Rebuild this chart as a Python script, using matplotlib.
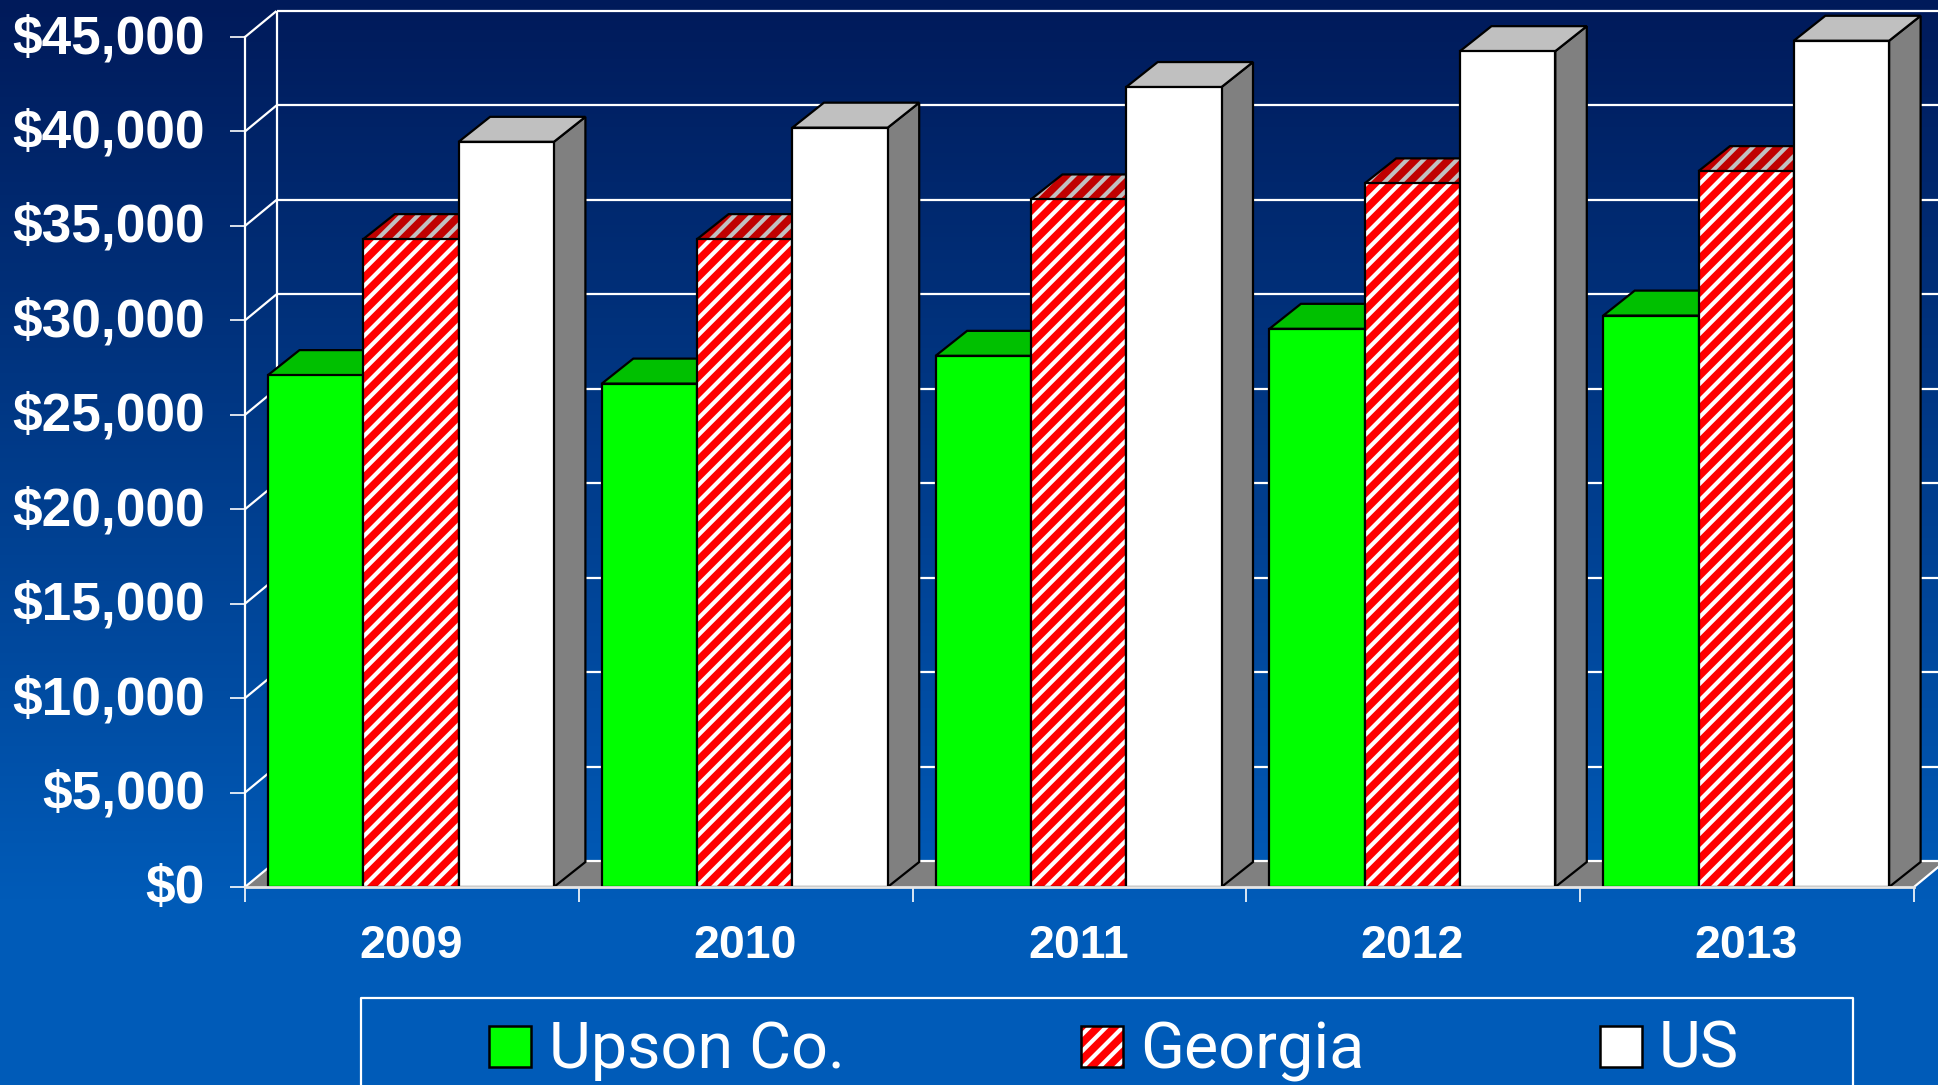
#!/usr/bin/env python3
import numpy as np
import matplotlib
matplotlib.use("Agg")
import matplotlib.pyplot as plt
from matplotlib.colors import LinearSegmentedColormap
from matplotlib.patches import Rectangle
from matplotlib.transforms import ScaledTranslation

years = ["2009", "2010", "2011", "2012", "2013"]
upson = [27100, 26650, 28120, 29550, 30250]
georgia = [34300, 34300, 36400, 37250, 37900]
us = [39450, 40200, 42350, 44250, 44800]
y_ticks = [0, 5000, 10000, 15000, 20000, 25000, 30000, 35000, 40000, 45000]

W, H = 1938, 1085
X0, X1, Y0, Y1 = 245, 1914, 887, 37     # plot box in pixels
px_x = 5 / (X1 - X0)
px_y = 45000 / (Y0 - Y1)
DX = 31.5 * px_x                        # 3d depth, in data units
DY = 26 * px_y
BAR_DY = 25 * px_y
BAR_W = 95.3 * px_x
MARGIN = 23 * px_x

plt.rcParams.update({
    "font.family": ["Liberation Sans", "DejaVu Sans"],
    "hatch.linewidth": 3.0,
    "text.color": "white",
})

fig = plt.figure(figsize=(W / 100, H / 100), dpi=100)

# background gradient
bg = fig.add_axes([0, 0, 1, 1], zorder=0)
cmap = LinearSegmentedColormap.from_list("bg", [(0, "#001A5A"), (0.83, "#005BB8"), (1, "#005CB9")])
bg.imshow(np.linspace(0, 1, 256).reshape(-1, 1), aspect="auto", cmap=cmap, extent=[0, W, H, 0])
bg.set_xlim(0, W)
bg.set_ylim(H, 0)
bg.axis("off")

ax = fig.add_axes([X0 / W, (H - Y0) / H, (X1 - X0) / W, (Y0 - Y1) / H], zorder=1)
ax.patch.set_alpha(0)
ax.set_xlim(0, 5)
ax.set_ylim(0, 45000)

# floor
ax.fill([0, DX, 5 + DX, 5], [0, DY, DY, 0], color="#808080", lw=0, zorder=1, clip_on=False)

# back wall grid, left wall diagonals
line = dict(color="white", lw=1.6, zorder=1.5, clip_on=False, solid_capstyle="butt")
for v in y_ticks:
    ax.plot([DX, 5 + DX], [v + DY, v + DY], **line)
    ax.plot([0, DX], [v, v + DY], **line)
ax.plot([DX, DX], [DY, 45000 + DY], **line)
ax.plot([5, 5 + DX], [0, DY], **line)


def draw_series(values, slot, front, top, side, hatch, z):
    lefts = [i + MARGIN + slot * BAR_W for i in range(len(values))]
    for x, v in zip(lefts, values):
        # side and top faces
        ax.fill([x + BAR_W, x + BAR_W + DX, x + BAR_W + DX, x + BAR_W], [0, BAR_DY, v + BAR_DY, v],
                facecolor=side, edgecolor="black", lw=1.6, zorder=z, clip_on=False)
        ax.fill([x, x + DX, x + BAR_W + DX, x + BAR_W], [v, v + BAR_DY, v + BAR_DY, v],
                facecolor=top[0], edgecolor=top[1], hatch=hatch, lw=0, zorder=z, clip_on=False)
        ax.fill([x, x + DX, x + BAR_W + DX, x + BAR_W], [v, v + BAR_DY, v + BAR_DY, v],
                fill=False, edgecolor="black", lw=1.6, zorder=z, clip_on=False)
    ax.bar(lefts, values, BAR_W, align="edge", color=front[0], edgecolor=front[1],
           hatch=hatch, lw=0, zorder=z + 0.5, clip_on=False)
    ax.bar(lefts, values, BAR_W, align="edge", fill=False, edgecolor="black", lw=1.6,
           zorder=z + 0.6, clip_on=False)


draw_series(upson, 0, ("#00FF00", "#00FF00"), ("#00C000", "#00C000"), "#00C000", None, 3)
draw_series(georgia, 1, ("#FF0000", "white"), ("#C00000", "#C0C0C0"), "#C00000", "//", 5)
draw_series(us, 2, ("white", "white"), ("#C0C0C0", "#C0C0C0"), "#808080", None, 7)

# axes
for s in ["top", "right"]:
    ax.spines[s].set_visible(False)
ax.spines["left"].set_color("white")
ax.spines["left"].set_linewidth(1.6)
ax.spines["left"].set_zorder(10)
ax.spines["bottom"].set_color("#E6E6E6")
ax.spines["bottom"].set_linewidth(2)
ax.spines["bottom"].set_zorder(10)

ax.set_yticks(y_ticks)
ax.set_yticklabels([f"${v:,}" for v in y_ticks], fontsize=38.3, fontweight="bold", color="white")
ax.tick_params(axis="y", length=10.8, width=1.2, color="white", pad=18)
shift_up = ScaledTranslation(0, 3.5 / 100, fig.dpi_scale_trans)
for lab in ax.get_yticklabels():
    lab.set_transform(lab.get_transform() + shift_up)
ax.set_xticks(range(6))
ax.set_xticklabels([])
ax.tick_params(axis="x", which="major", length=10.8, width=1.2, color="white")
ax.set_xticks([i + MARGIN + 1.5 * BAR_W for i in range(5)], minor=True)
ax.set_xticklabels(years, minor=True, fontsize=33.5, fontweight="bold", color="white")
ax.tick_params(axis="x", which="minor", length=0, pad=27)

# legend, drawn in pixel space on the background axes
top = fig.add_axes([0, 0, 1, 1], zorder=2)
top.set_xlim(0, W)
top.set_ylim(H, 0)
top.axis("off")
top.plot([361, 361, 1853, 1853], [1090, 998, 998, 1090], color="white", lw=1.6, clip_on=True)
legend_items = [("Upson Co.", 489, 549, "#00FF00", "#00FF00", None),
                ("Georgia", 1081, 1140, "#FF0000", "white", "//"),
                ("US", 1600, 1659, "white", "white", None)]
for label, sx, tx, face, edge, hatch in legend_items:
    top.add_patch(Rectangle((sx, 1026), 42, 41, facecolor=face, edgecolor=edge, hatch=hatch, lw=0))
    top.add_patch(Rectangle((sx, 1026), 42, 41, fill=False, edgecolor="black", lw=1.8))
    top.text(tx, 1068, label, fontsize=46.5, color="white", va="baseline", ha="left",
             family=["Roboto", "Liberation Sans"])

fig.savefig("out.png", dpi=100)
